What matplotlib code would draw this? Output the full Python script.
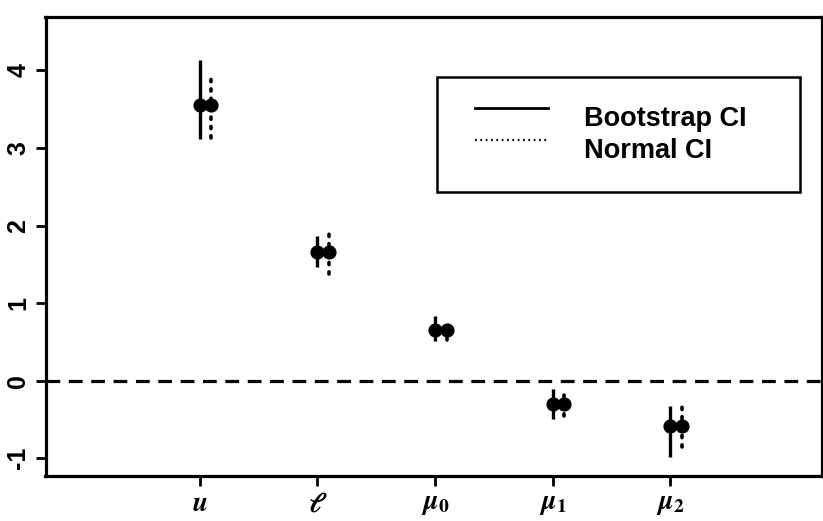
import matplotlib
matplotlib.use("Agg")
import matplotlib.pyplot as plt
from matplotlib.lines import Line2D
from matplotlib.patches import Rectangle
import numpy as np

plt.rcParams['font.family'] = ['Liberation Sans', 'DejaVu Sans']
plt.rcParams['mathtext.fontset'] = 'stix'

# Parameters and their interval estimates
params = [r'$\mathbfit{u}$', r'$\mathbfit{\ell}$', r'$\mathbfit{\mu}_{\mathbf{0}}$',
          r'$\mathbfit{\mu}_{\mathbf{1}}$', r'$\mathbfit{\mu}_{\mathbf{2}}$']
estimate = [3.55, 1.66, 0.65, -0.30, -0.58]
boot_lo = [3.12, 1.47, 0.51, -0.50, -0.98]
boot_hi = [4.13, 1.86, 0.83, -0.11, -0.33]
norm_lo = [3.13, 1.37, 0.52, -0.46, -0.85]
norm_hi = [3.97, 1.93, 0.76, -0.14, -0.31]
yticks = [-1, 0, 1, 2, 3, 4]

W, H = 823, 521
fig = plt.figure(figsize=(W / 100, H / 100), dpi=100)
ax = fig.add_axes([45.5 / W, 1 - 476 / H, (822 - 45.5) / W, (476 - 17) / H])

pos = np.arange(1, len(params) + 1)
offset = 0.1

# Bootstrap intervals (solid) and normal intervals (dotted)
ax.vlines(pos, boot_lo, boot_hi, colors='black', linewidth=2.4)
ax.vlines(pos + offset, norm_lo, norm_hi, colors='black', linewidth=2.6,
          linestyles=(0, (0.6, 2.0)), capstyle='round')
ax.plot(pos, estimate, 'o', color='black', markersize=9.2)
ax.plot(pos + offset, estimate, 'o', color='black', markersize=9.2)

# Reference line at zero
ax.axhline(0, color='black', linewidth=2.3, linestyle=(0, (4.3, 2.7)))

ax.set_xlim(-0.31, 6.29)
ax.set_ylim(-1.23, 4.69)
ax.set_xticks(pos)
ax.set_xticklabels(params, fontsize=20)
ax.set_yticks(yticks)
ax.set_yticklabels([str(t) for t in yticks], fontsize=18, fontweight='bold',
                   rotation=90, va='center')
ax.tick_params(axis='both', direction='out', length=7, width=2, pad=4)
for s in ax.spines.values():
    s.set_linewidth(2.3)

# Legend box
ax.add_patch(Rectangle((0.504, 0.619), 0.468, 0.250, transform=ax.transAxes,
                       fill=False, edgecolor='black', linewidth=1.8))
ax.add_line(Line2D([0.553, 0.647], [0.802, 0.802], transform=ax.transAxes,
                   color='black', linewidth=2.0))
ax.add_line(Line2D([0.553, 0.647], [0.732, 0.732], transform=ax.transAxes,
                   color='black', linewidth=1.6, linestyle=(0, (0.8, 1.6))))
ax.text(0.694, 0.763, 'Bootstrap CI', transform=ax.transAxes, fontsize=19.5,
        fontweight='bold', va='baseline', ha='left')
ax.text(0.694, 0.693, 'Normal CI', transform=ax.transAxes, fontsize=19.5,
        fontweight='bold', va='baseline', ha='left')

fig.savefig('out.png', dpi=100)
